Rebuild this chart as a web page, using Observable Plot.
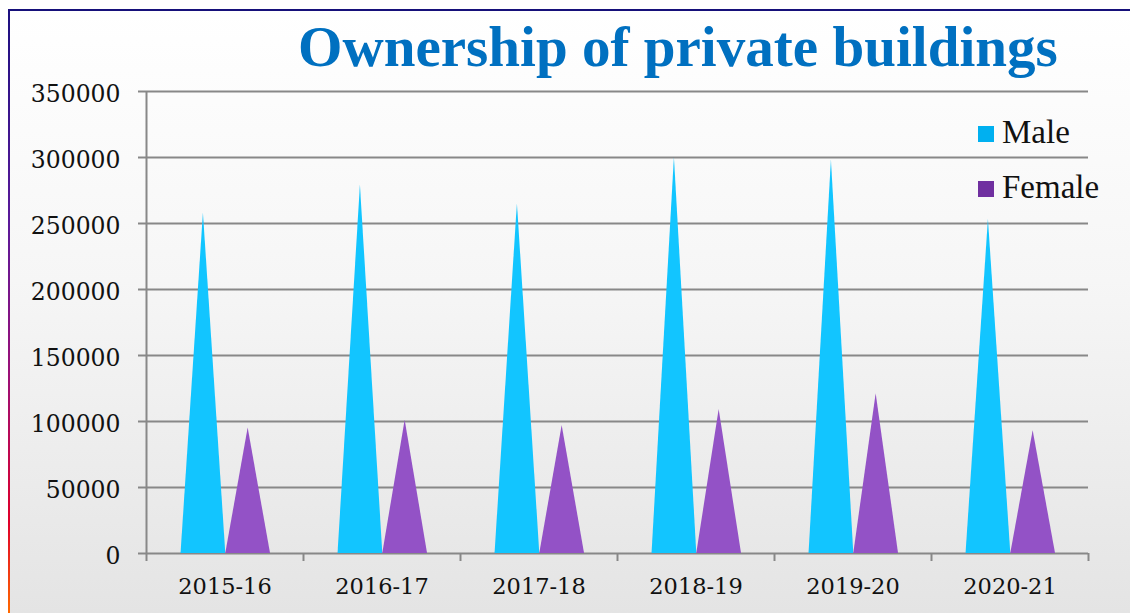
<!DOCTYPE html>
<html>
<head>
<meta charset="utf-8">
<script src="https://cdn.jsdelivr.net/npm/d3@7"></script>
<script src="https://cdn.jsdelivr.net/npm/@observablehq/plot@0.6"></script>
<style>
  html, body { margin: 0; padding: 0; width: 1130px; height: 613px; overflow: hidden; background: #ffffff; }
  #page { position: relative; width: 1130px; height: 613px; }
  #panel { position: absolute; left: 9px; top: 10px; right: 0; bottom: 0;
           background: linear-gradient(to bottom, #ffffff 0%, #f6f6f6 45%, #e4e4e4 100%); }
  #topline { position: absolute; left: 8px; top: 9px; right: 0; height: 1.5px; background: #16107a; }
  #leftline { position: absolute; left: 8px; top: 9px; width: 2px; bottom: 0;
              background: linear-gradient(to bottom, #1c1080 0%, #5a1a9a 35%, #9a1078 60%, #e0002a 85%, #ff6a00 100%); }
  #title { position: absolute; top: 20px; left: 0; width: 1130px; text-align: left;
           font-family: "Liberation Serif", serif; font-weight: bold; color: #0070C0; white-space: nowrap; }
  #chart { position: absolute; left: 0; top: 80px; }
  #legend { position: absolute; left: 978px; top: 112px; font-family: "Liberation Serif", serif; font-size: 33px; color: #111; }
  .item { position: absolute; white-space: nowrap; }
  .sw { position: absolute; width: 16px; height: 16px; }
</style>
</head>
<body>
<div id="page">
  <div id="panel"></div>
  <div id="topline"></div>
  <div id="leftline"></div>
  <div id="title"></div>
  <div id="chart"></div>
  <div id="legend"></div>
</div>
<script>
const titleText = "Ownership of private buildings";
const years = ["2015-16", "2016-17", "2017-18", "2018-19", "2019-20", "2020-21"];
const male = [258000, 279000, 265000, 300000, 298000, 253000];
const female = [95000, 101000, 97000, 109000, 121000, 93000];
const seriesNames = ["Male", "Female"];
const seriesFill = ["#12C5FF", "#9352C6"];
const legendFill = ["#00B0F0", "#7030A0"];
const yTicks = [0, 50000, 100000, 150000, 200000, 250000, 300000, 350000];

// Title: fit to the reference width
const titleEl = document.getElementById("title");
titleEl.textContent = titleText;
(function fitTitle() {
  const c = document.createElement("canvas").getContext("2d");
  c.font = 'bold 50px "Liberation Serif"';
  const w = c.measureText(titleText).width;
  const size = 50 * 760 / w;
  titleEl.style.fontSize = size + "px";
  titleEl.style.left = "298px";
  titleEl.style.lineHeight = "1";
  titleEl.style.top = (69 - size * 0.89) + "px";
})();

// Triangles built from the series values (category index + band offsets)
const series = [male, female];
const offsets = [[0.22, 0.505], [0.505, 0.79]];
function triangles(s) {
  const vals = series[s];
  const [a, b] = offsets[s];
  const pts = [];
  vals.forEach((v, i) => {
    pts.push({k: i, x: i + a, y: 0});
    pts.push({k: i, x: i + (a + b) / 2, y: v});
    pts.push({k: i, x: i + b, y: 0});
  });
  return pts;
}

const gridColor = "#888888";
const chart = Plot.plot({
  width: 1130,
  height: 533,
  marginTop: 11,
  marginBottom: 60,
  marginLeft: 146,
  marginRight: 42,
  style: {background: "transparent", fontFamily: "DejaVu Serif", fontSize: "23.5px", color: "#111"},
  x: {domain: [0, years.length], ticks: d3.range(years.length + 1), tickSize: 8, tickFormat: () => "", label: null},
  y: {domain: [0, 350000], ticks: yTicks, tickSize: 8, tickPadding: 18, tickFormat: d => String(d), label: null},
  marks: [
    Plot.ruleY(yTicks, {stroke: gridColor, strokeWidth: 2}),
    Plot.ruleX([0], {stroke: gridColor, strokeWidth: 2}),
    Plot.areaY(triangles(0), {x: "x", y: "y", z: "k", fill: seriesFill[0]}),
    Plot.areaY(triangles(1), {x: "x", y: "y", z: "k", fill: seriesFill[1]}),
    Plot.text(years, {x: (d, i) => i + 0.5, y: () => 0, text: d => d, dy: 33, fill: "#111", fontSize: 22.5})
  ]
});
document.getElementById("chart").appendChild(chart);

// gray tick marks for the axes
chart.querySelectorAll('[aria-label="x-axis tick"], [aria-label="y-axis tick"]').forEach(g => {
  g.style.color = gridColor;
  g.setAttribute("stroke-width", 2);
});
chart.querySelectorAll('[aria-label="y-axis tick label"]').forEach(g => {
  g.setAttribute("transform", (g.getAttribute("transform") || "") + " translate(0,3)");
});

// Legend
const legend = document.getElementById("legend");
seriesNames.forEach((name, i) => {
  const item = document.createElement("div");
  item.className = "item";
  item.style.top = (i * 55) + "px";
  item.style.left = "0px";
  const sw = document.createElement("div");
  sw.className = "sw";
  sw.style.background = legendFill[i];
  sw.style.left = "0px";
  sw.style.top = "14px";
  const label = document.createElement("span");
  label.textContent = name;
  label.style.position = "absolute";
  label.style.left = "24px";
  label.style.top = "0px";
  label.style.lineHeight = "40px";
  item.appendChild(sw);
  item.appendChild(label);
  legend.appendChild(item);
});
</script>
</body>
</html>
